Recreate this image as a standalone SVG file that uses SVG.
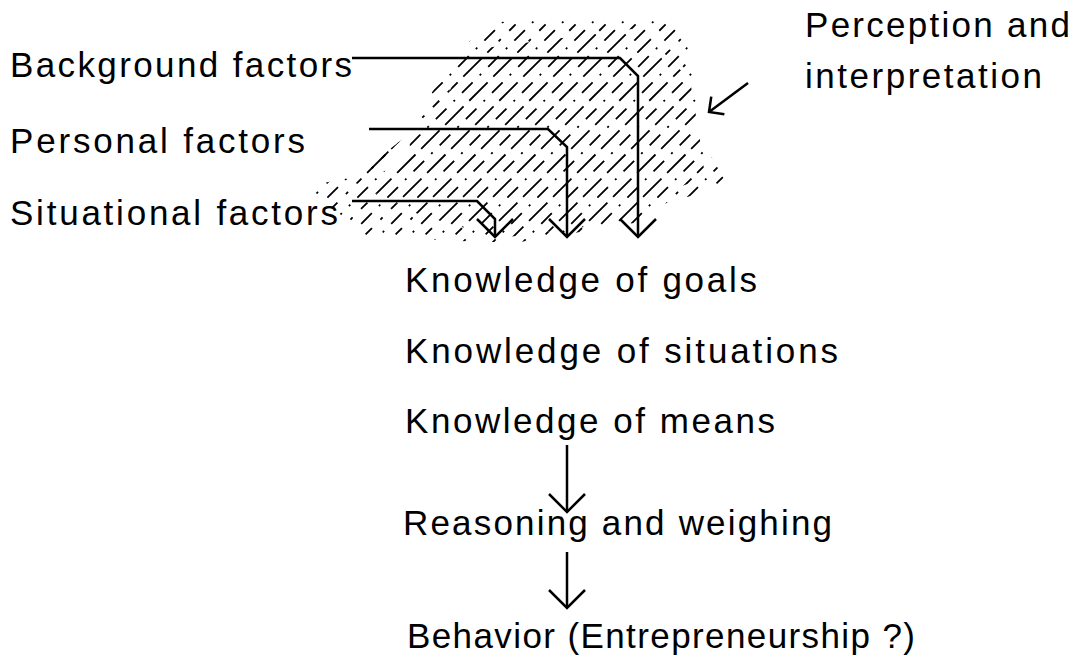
<svg xmlns="http://www.w3.org/2000/svg" width="1079" height="657" viewBox="0 0 1079 657">
<style>
  text { font-family: "Liberation Sans", Arial, sans-serif; font-size: 35px; fill: #000; }
  .conn { fill: none; stroke: #000; stroke-width: 2.5; }
  .hatch { fill: none; stroke: #000; stroke-width: 1.8; }
</style>
<defs>
  <marker id="vhead" markerUnits="userSpaceOnUse" markerWidth="40" markerHeight="40" refX="0" refY="0" viewBox="-20 -20 40 40" orient="auto" overflow="visible">
    <path d="M-18 -18 L0 0 L-18 18" fill="none" stroke="#000" stroke-width="2.5"/>
  </marker>
  <marker id="vhead-s" markerUnits="userSpaceOnUse" markerWidth="30" markerHeight="30" refX="0" refY="0" viewBox="-15 -15 30 30" orient="auto" overflow="visible">
    <path d="M-11 -11 L0 0 L-11 11" fill="none" stroke="#000" stroke-width="2.5"/>
  </marker>
  <clipPath id="outer">
    <polygon points="495,22 670,16 690,45 700,95 695,130 728,185 660,205 640,222 520,242 480,242 365,236 308,186 400,168 430,95 465,45"/>
  </clipPath>
  <clipPath id="inner">
    <polygon points="470,50 640,28 690,80 700,140 705,178 650,197 622,222 500,238 420,215 350,180 440,110"/>
  </clipPath>
  <clipPath id="ring">
    <path clip-rule="evenodd" d="M495,22 670,16 690,45 700,95 695,130 728,185 660,205 640,222 520,242 480,242 365,236 308,186 400,168 430,95 465,45Z M470,50 640,28 690,80 700,140 705,178 650,197 622,222 500,238 420,215 350,180 440,110Z"/>
  </clipPath>
</defs>

<g id="hatching">
  <path class="hatch" clip-path="url(#inner)" stroke-dasharray="26 8" d="M235 245L470 10 M265 245L500 10 M295 245L530 10 M325 245L560 10 M355 245L590 10 M385 245L620 10 M415 245L650 10 M445 245L680 10 M475 245L710 10 M505 245L740 10 M535 245L770 10 M565 245L800 10 M595 245L830 10 M625 245L860 10 M655 245L890 10"/>
  <path class="hatch" clip-path="url(#ring)" stroke-dasharray="3 12 9 12" d="M235 245L470 10 M265 245L500 10 M295 245L530 10 M325 245L560 10 M355 245L590 10 M385 245L620 10 M415 245L650 10 M445 245L680 10 M475 245L710 10 M505 245L740 10 M535 245L770 10 M565 245L800 10 M595 245L830 10 M625 245L860 10 M655 245L890 10"/>
  <path class="hatch" clip-path="url(#outer)" stroke-dasharray="15 10 2 10" stroke-dashoffset="7" d="M250 245L485 10 M280 245L515 10 M310 245L545 10 M340 245L575 10 M370 245L605 10 M400 245L635 10 M430 245L665 10 M460 245L695 10 M490 245L725 10 M520 245L755 10 M550 245L785 10 M580 245L815 10 M610 245L845 10 M640 245L875 10 M670 245L905 10"/>
</g>

<g id="connectors">
  <path class="conn" d="M352 58 H620 L638 76 V237" marker-end="url(#vhead)"/>
  <path class="conn" d="M369 129 H548 L567 147 V237" marker-end="url(#vhead)"/>
  <path class="conn" d="M352 201 H477 L495 219 V237" marker-end="url(#vhead)"/>
  <path class="conn" d="M567 445 V512" marker-end="url(#vhead)"/>
  <path class="conn" d="M567 552 V608" marker-end="url(#vhead)"/>
  <path class="conn" d="M748 83 L709 112" marker-end="url(#vhead-s)"/>
</g>

<g id="background-factors"><text x="10" y="77" textLength="342" lengthAdjust="spacing">Background factors</text></g>
<g id="personal-factors"><text x="10" y="153" textLength="295" lengthAdjust="spacing">Personal factors</text></g>
<g id="situational-factors"><text x="10" y="225" textLength="328" lengthAdjust="spacing">Situational factors</text></g>
<g id="perception">
  <text x="805" y="37" textLength="265" lengthAdjust="spacing">Perception and</text>
  <text x="805" y="88" textLength="237" lengthAdjust="spacing">interpretation</text>
</g>
<g id="knowledge-goals"><text x="405" y="292" textLength="352" lengthAdjust="spacing">Knowledge of goals</text></g>
<g id="knowledge-situations"><text x="405" y="363" textLength="433" lengthAdjust="spacing">Knowledge of situations</text></g>
<g id="knowledge-means"><text x="405" y="433" textLength="370" lengthAdjust="spacing">Knowledge of means</text></g>
<g id="reasoning"><text x="403" y="535" textLength="429" lengthAdjust="spacing">Reasoning and weighing</text></g>
<g id="behavior"><text x="407" y="648" textLength="508" lengthAdjust="spacing">Behavior (Entrepreneurship ?)</text></g>
</svg>
